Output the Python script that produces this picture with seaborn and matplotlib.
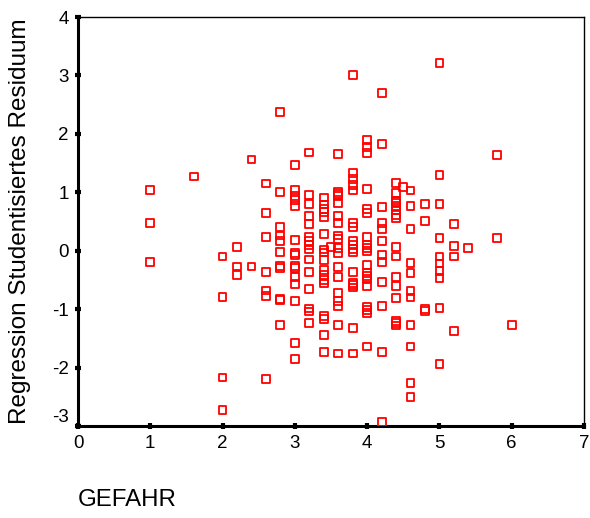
import matplotlib
matplotlib.use("Agg")
import matplotlib.pyplot as plt
import seaborn as sns
import pandas as pd

# Studentized regression residuals grouped by the GEFAHR score
gefahr_levels = [1.0, 1.6, 2.0, 2.2, 2.4, 2.6, 2.8, 3.0, 3.2, 3.4, 3.5, 3.6,
                 3.8, 4.0, 4.2, 4.4, 4.5, 4.6, 4.8, 5.0, 5.2, 5.4, 5.8, 6.0]

res_1_0 = [1.04, 0.48, -0.19]
res_1_6 = [1.27]
res_2_0 = [-0.10, -0.79, -2.17, -2.72]
res_2_2 = [0.07, -0.27, -0.41]
res_2_4 = [1.56, -0.27]
res_2_6 = [1.15, 0.65, 0.24, -0.37, -0.68, -0.77, -2.20]
res_2_8 = [2.38, 1.00, 0.40, 0.26, 0.16, -0.02, -0.26, -0.29, -0.82, -0.85, -1.27]
res_3_0 = [1.47, 1.04, 0.94, 0.87, 0.77, 0.19, -0.04, -0.08, -0.26, -0.29,
           -0.45, -0.57, -0.86, -1.58, -1.85]
res_3_2 = [1.68, 0.96, 0.80, 0.60, 0.46, 0.24, 0.17, 0.10, 0.02, -0.15,
           -0.36, -0.65, -0.99, -1.04, -1.24]
res_3_4 = [0.91, 0.79, 0.72, 0.66, 0.58, 0.28, 0.02, -0.03, -0.16, -0.33,
           -0.41, -0.50, -0.56, -1.12, -1.17, -1.44, -1.73]
res_3_5 = [0.07]
res_3_6 = [1.65, 1.00, 0.97, 0.93, 0.82, 0.60, 0.47, 0.26, 0.20, 0.05,
           -0.04, -0.28, -0.45, -0.72, -0.86, -0.94, -1.27, -1.76]
res_3_8 = [3.01, 1.33, 1.23, 1.13, 1.03, 0.47, 0.41, 0.17, 0.10, 0.03,
           -0.02, -0.36, -0.55, -0.59, -0.63, -1.32, -1.76]
res_4_0 = [1.89, 1.78, 1.67, 1.06, 0.72, 0.64, 0.23, 0.10, 0.05, 0.00,
           -0.25, -0.38, -0.43, -0.48, -0.60, -0.96, -1.01, -1.06, -1.64]
res_4_2 = [2.70, 1.83, 0.75, 0.47, 0.37, 0.16, -0.07, -0.19, -0.53, -0.94,
           -1.73, -2.93]
res_4_4 = [1.16, 0.99, 0.86, 0.81, 0.76, 0.69, 0.61, 0.56, 0.07, -0.10,
           -0.45, -0.60, -0.81, -1.21, -1.24, -1.28]
res_4_5 = [1.09]
res_4_6 = [1.03, 0.77, 0.37, -0.21, -0.38, -0.69, -0.80, -1.27, -1.64,
           -2.26, -2.50]
res_4_8 = [0.80, 0.51, -1.00, -1.03]
res_5_0 = [3.22, 1.30, 0.80, 0.22, -0.10, -0.22, -0.34, -0.47, -0.98, -1.94]
res_5_2 = [0.46, 0.08, -0.10, -1.38]
res_5_4 = [0.05]
res_5_8 = [1.64, 0.22]
res_6_0 = [-1.27]

residual_groups = [res_1_0, res_1_6, res_2_0, res_2_2, res_2_4, res_2_6,
                   res_2_8, res_3_0, res_3_2, res_3_4, res_3_5, res_3_6,
                   res_3_8, res_4_0, res_4_2, res_4_4, res_4_5, res_4_6,
                   res_4_8, res_5_0, res_5_2, res_5_4, res_5_8, res_6_0]

x_ticks = [0, 1, 2, 3, 4, 5, 6, 7]
y_ticks = [-3, -2, -1, 0, 1, 2, 3, 4]

rows = [(g, r) for g, grp in zip(gefahr_levels, residual_groups) for r in grp]
df = pd.DataFrame(rows, columns=["GEFAHR", "Residuum"])

sns.set_style("white")
plt.rcParams["font.family"] = ["Liberation Sans", "DejaVu Sans"]
plt.rcParams["axes.unicode_minus"] = False
plt.rcParams["xtick.bottom"] = True
plt.rcParams["ytick.left"] = True

fig = plt.figure(figsize=(5.9, 5.18), dpi=100)
ax = fig.add_axes([78 / 590, 1 - 426 / 518, 506 / 590, 409 / 518])

sns.scatterplot(data=df, x="GEFAHR", y="Residuum", ax=ax, marker="s",
                s=32, facecolor="none", edgecolor="#ff0000", linewidth=1.3,
                zorder=3)

ax.set_xlim(0, 7)
ax.set_ylim(-3, 4)
ax.set_xticks(x_ticks)
ax.set_yticks(y_ticks)

for side in ["left", "bottom"]:
    ax.spines[side].set_linewidth(2.2)
    ax.spines[side].set_color("black")
for side in ["top", "right"]:
    ax.spines[side].set_linewidth(1.0)
    ax.spines[side].set_color("black")
    ax.spines[side].set_visible(True)

ax.tick_params(axis="both", which="major", bottom=True, left=True,
               direction="inout", length=5, width=3, color="black",
               labelsize=13.5, labelcolor="black")
ax.tick_params(axis="x", pad=4)
ax.tick_params(axis="y", pad=4)

# lowest y label sits just above the axis line
ax.get_yticklabels()[0].set_va("bottom")

ax.set_xlabel("GEFAHR", fontsize=17.3, color="black", ha="left", va="center")
ax.xaxis.set_label_coords(0.0, -0.181)
ax.set_ylabel("Regression Studentisiertes Residuum", fontsize=17.5,
              color="black", va="center", ha="center")
ax.yaxis.set_label_coords(-0.115, 0.5)

fig.savefig("out.png", dpi=100, facecolor="white")
